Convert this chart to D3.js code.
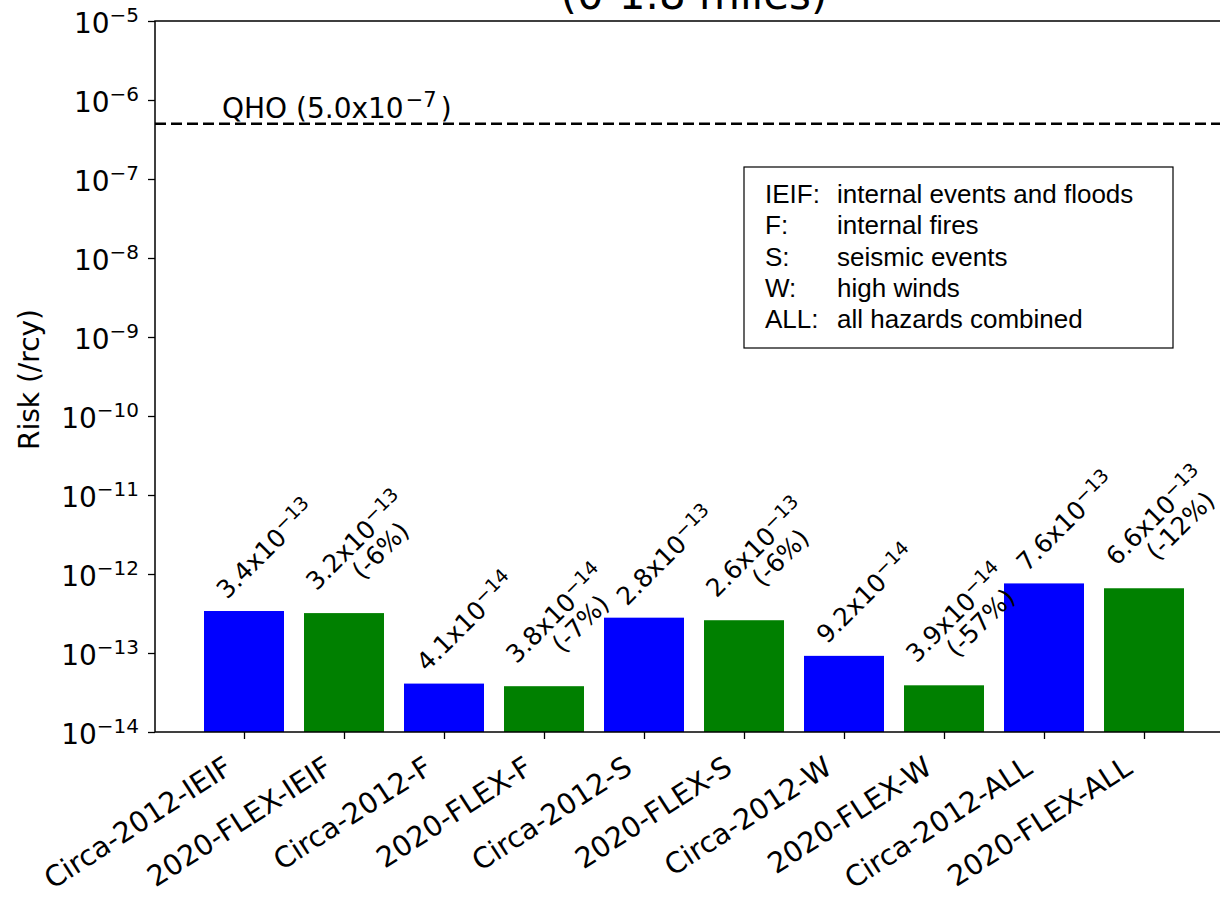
<!DOCTYPE html>
<html>
<head>
<meta charset="utf-8">
<script src="https://cdn.jsdelivr.net/npm/d3@7"></script>
<style>
  body { margin: 0; background: #fff; }
  text { font-family: "DejaVu Sans", sans-serif; fill: #000; }
</style>
</head>
<body>
<div id="risk-chart"></div>
<script>
// chart data
var categories = ["Circa-2012-IEIF", "2020-FLEX-IEIF", "Circa-2012-F", "2020-FLEX-F",
    "Circa-2012-S", "2020-FLEX-S", "Circa-2012-W", "2020-FLEX-W", "Circa-2012-ALL", "2020-FLEX-ALL"];
var riskValues = [3.4e-13, 3.2e-13, 4.1e-14, 3.8e-14, 2.8e-13, 2.6e-13, 9.2e-14, 3.9e-14, 7.6e-13, 6.6e-13];
var changeLabels = [null, "(-6%)", null, "(-7%)", null, "(-6%)", null, "(-57%)", null, "(-12%)"];
var yTickExponents = [-14, -13, -12, -11, -10, -9, -8, -7, -6, -5];
var qhoValue = 5.0e-7;
var legendKeys = ["IEIF:", "F:", "S:", "W:", "ALL:"];
var legendDescriptions = ["internal events and floods", "internal fires", "seismic events", "high winds", "all hazards combined"];

var W = 1220, H = 902;
var margin = { top: 21, left: 155, bottom: 902 - 732 };
var plotRight = 1233;

var svg = d3.select("#risk-chart")
    .append("svg")
    .attr("width", W)
    .attr("height", H);

var x = d3.scaleLinear()
    .domain([-0.89, categories.length - 1 + 0.89])
    .range([margin.left, plotRight]);

var y = d3.scaleLog()
    .domain([1e-14, 1e-5])
    .range([H - margin.bottom, margin.top]);

var barWidth = x(0.8) - x(0);

// bars
svg.selectAll("rect.bar")
    .data(riskValues)
    .enter()
    .append("rect")
    .attr("class", "bar")
    .attr("x", function (d, i) { return x(i) - barWidth / 2; })
    .attr("y", function (d) { return y(d); })
    .attr("width", barWidth)
    .attr("height", function (d) { return y(1e-14) - y(d); })
    .attr("fill", function (d, i) { return i % 2 === 0 ? "#0000ff" : "#008000"; });

// QHO line
svg.append("line")
    .attr("x1", x.range()[0])
    .attr("x2", x.range()[1])
    .attr("y1", y(qhoValue))
    .attr("y2", y(qhoValue))
    .attr("stroke", "#000")
    .attr("stroke-width", 2.5)
    .attr("stroke-dasharray", "11,5");

var qhoText = svg.append("text")
    .attr("x", 222)
    .attr("y", y(qhoValue) - 6)
    .style("font-size", "28px");
qhoText.append("tspan").text("QHO (5.0x10");
qhoText.append("tspan").attr("dx", 2).attr("dy", -11).style("font-size", "21px").text("\u22127");
qhoText.append("tspan").attr("dx", 4).attr("dy", 11).text(")");

// frame
svg.append("rect")
    .attr("x", x.range()[0])
    .attr("y", y.range()[1])
    .attr("width", x.range()[1] - x.range()[0])
    .attr("height", y.range()[0] - y.range()[1])
    .attr("fill", "none")
    .attr("stroke", "#000")
    .attr("stroke-width", 1.5);

// y axis
var yAxis = svg.append("g")
    .attr("transform", "translate(" + margin.left + ",0)")
    .call(d3.axisLeft(y)
        .tickValues(yTickExponents.map(function (e) { return Math.pow(10, e); }))
        .tickSize(7)
        .tickFormat(""));
yAxis.select(".domain").remove();
yAxis.selectAll("line").attr("stroke-width", 1.3);

yTickExponents.forEach(function (e) {
    var t = svg.append("text")
        .attr("x", 139)
        .attr("y", y(Math.pow(10, e)) + 12)
        .attr("text-anchor", "end")
        .style("font-size", "28px");
    t.append("tspan").text("10");
    t.append("tspan").attr("dy", -11).style("font-size", "20px").text("\u2212" + Math.abs(e));
});

svg.append("text")
    .attr("transform", "translate(39," + ((y.range()[0] + y.range()[1]) / 2 + 3) + ") rotate(-90)")
    .attr("text-anchor", "middle")
    .style("font-size", "28px")
    .text("Risk (/rcy)");

// x axis ticks and labels
var xAxis = svg.append("g")
    .attr("transform", "translate(0," + y.range()[0] + ")")
    .call(d3.axisBottom(x)
        .tickValues(d3.range(categories.length))
        .tickSize(7)
        .tickFormat(""));
xAxis.select(".domain").remove();
xAxis.selectAll("line").attr("stroke-width", 1.3);

svg.selectAll("text.xlabel")
    .data(categories)
    .enter()
    .append("text")
    .attr("class", "xlabel")
    .attr("text-anchor", "end")
    .attr("transform", function (d, i) {
        return "translate(" + (x(i) - 10) + ",772) rotate(-33)";
    })
    .style("font-size", "28.5px")
    .text(function (d) { return d; });

// bar value labels
riskValues.forEach(function (v, i) {
    var exp = Math.floor(Math.log10(v));
    var mant = (v / Math.pow(10, exp)).toFixed(1);
    var g = svg.append("g")
        .attr("transform", "translate(" + (x(i) - 17) + "," + (y(v) - 11) + ") rotate(-45)");
    var twoLines = changeLabels[i] !== null;
    var line1 = g.append("text")
        .attr("x", 0)
        .attr("y", twoLines ? -15 : 0)
        .style("font-size", "25px");
    line1.append("tspan").text(mant + "x10");
    line1.append("tspan").attr("dy", -9).style("font-size", "19px").text("\u2212" + Math.abs(exp));
    if (twoLines) {
        var w1 = line1.node().getComputedTextLength();
        g.append("text")
            .attr("x", w1 / 2 + 11)
            .attr("y", 10)
            .attr("text-anchor", "middle")
            .style("font-size", "25px")
            .text(changeLabels[i]);
    }
});

// title (first line falls above the page)
svg.append("text")
    .attr("x", (x.range()[0] + x.range()[1]) / 2)
    .attr("y", 9)
    .attr("text-anchor", "middle")
    .style("font-size", "42px")
    .text("(0-1.8 miles)");

// legend box
var legend = svg.append("g");
legend.append("rect")
    .attr("x", 744)
    .attr("y", 167)
    .attr("width", 429)
    .attr("height", 181)
    .attr("fill", "#fff")
    .attr("stroke", "#000")
    .attr("stroke-width", 1.2);

legendKeys.forEach(function (k, i) {
    legend.append("text")
        .attr("x", 765)
        .attr("y", 203 + i * 31.3)
        .style("font-family", "'Liberation Sans', Arial, sans-serif")
        .style("font-size", "26px")
        .text(k);
    legend.append("text")
        .attr("x", 837)
        .attr("y", 203 + i * 31.3)
        .style("font-family", "'Liberation Sans', Arial, sans-serif")
        .style("font-size", "26px")
        .text(legendDescriptions[i]);
});
</script>
</body>
</html>
